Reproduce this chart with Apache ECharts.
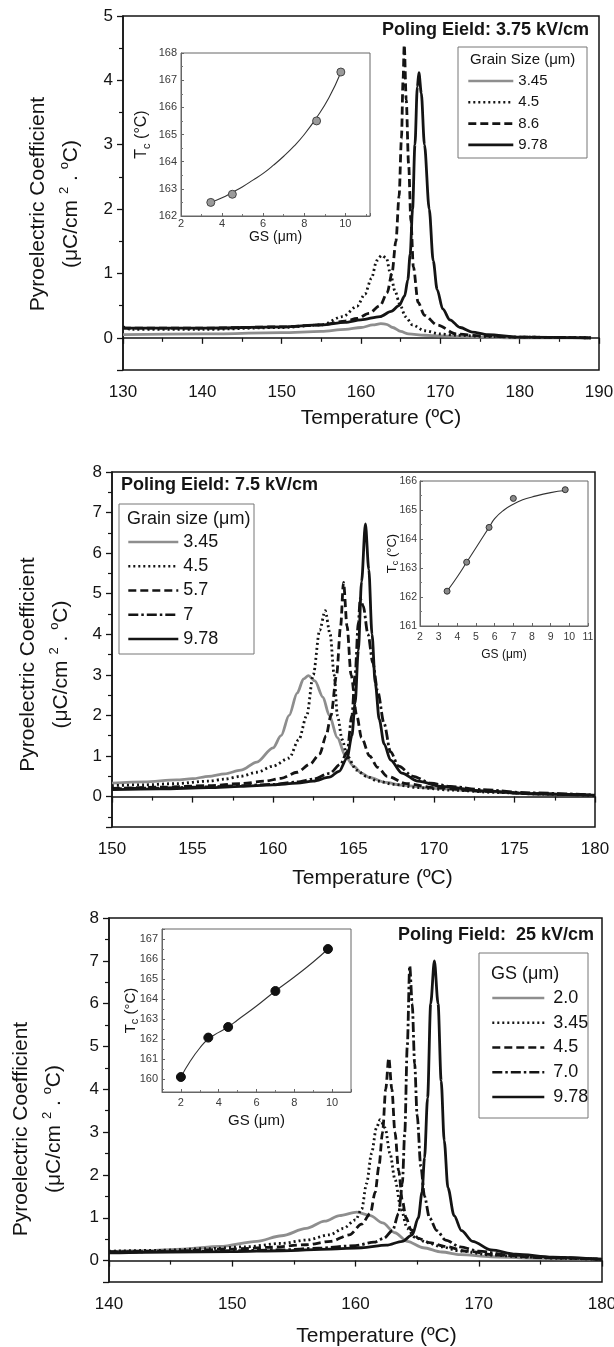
<!DOCTYPE html>
<html>
<head>
<meta charset="utf-8">
<script src="https://cdn.jsdelivr.net/npm/echarts@6/dist/echarts.min.js"></script>
<style>
html,body{margin:0;padding:0;background:#fff;}
#chart{width:614px;height:1347px;}
</style>
</head>
<body>
<div id="chart"></div>
<script>
// ---------- Panel A: poling field 3.75 kV/cm ----------
const a_345 = [[130,0.05],[140,0.06],[150,0.08],[155,0.1],[158,0.13],[160,0.16],[161.5,0.2],[162.5,0.22],[163.2,0.21],[164,0.16],[165,0.1],[166,0.06],[168,0.04],[170,0.03],[175,0.01],[180,0.0],[189,0.0]];
const a_45 = [[130,0.17],[131,0.13],[140,0.13],[150,0.16],[155,0.2],[157.7,0.33],[159.5,0.49],[160.5,0.68],[161.3,0.92],[162,1.2],[162.6,1.28],[163.2,1.24],[163.7,1.0],[164.3,0.72],[164.9,0.52],[165.6,0.33],[166.5,0.2],[168,0.11],[170,0.06],[172,0.04],[176,0.02],[180,0.01],[189,0.0]];
const a_86 = [[130,0.15],[140,0.15],[150,0.17],[155,0.2],[158,0.26],[159.5,0.3],[161,0.38],[162.4,0.5],[163.3,0.7],[163.9,1.0],[164.4,1.5],[164.8,2.2],[165.1,3.1],[165.3,4.0],[165.45,4.55],[165.7,3.7],[166.0,2.7],[166.3,1.8],[166.6,1.1],[167.2,0.55],[168,0.35],[169.6,0.2],[172,0.06],[175,0.03],[180,0.01],[189,0.0]];
const a_978 = [[130,0.15],[140,0.15],[150,0.17],[155,0.2],[158,0.24],[160,0.28],[162.4,0.33],[163.8,0.41],[164.8,0.5],[165.5,0.65],[165.9,0.9],[166.2,1.3],[166.5,2.0],[166.8,3.0],[167.1,3.9],[167.3,4.12],[167.6,3.8],[168.0,3.0],[168.6,2.0],[169.1,1.2],[169.6,0.75],[170.3,0.45],[171.2,0.28],[172.5,0.16],[174,0.09],[176,0.05],[180,0.01],[189,0.0]];
const aGS = [3.45,4.5,8.6,9.78];
const aTc = [162.5,162.8,165.5,167.3];
const aFitGS = [3.45,4,4.5,5,5.5,6,6.5,7,7.5,8,8.6,9.2,9.78];
const aFitTc = [162.5,162.67,162.87,163.08,163.32,163.57,163.87,164.2,164.57,165.0,165.62,166.35,167.28];

// ---------- Panel B: poling field 7.5 kV/cm ----------
const b_345 = [[150,0.33],[152,0.36],[154,0.41],[155,0.44],[156,0.5],[157,0.56],[158,0.65],[159,0.85],[160,1.2],[160.5,1.5],[161,2.0],[161.5,2.55],[161.9,2.9],[162.2,2.98],[162.6,2.85],[163.1,2.45],[163.5,2.0],[164,1.45],[164.5,1.0],[165,0.75],[165.5,0.58],[166,0.47],[167,0.35],[168,0.28],[170,0.2],[172,0.15],[175,0.09],[178,0.05],[180,0.03]];
const b_45 = [[150,0.27],[152,0.29],[154,0.32],[156,0.38],[157,0.43],[158,0.5],[159,0.6],[160,0.75],[161,0.95],[161.6,1.4],[162.1,2.0],[162.5,3.0],[162.9,4.1],[163.24,4.58],[163.55,4.0],[163.8,3.0],[164.0,2.0],[164.3,1.4],[164.6,1.0],[165.2,0.65],[165.8,0.5],[166.5,0.38],[167.5,0.3],[169,0.22],[171,0.16],[174,0.1],[177,0.06],[180,0.03]];
const b_57 = [[150,0.2],[153,0.23],[156,0.27],[158,0.32],[159.5,0.38],[160.5,0.45],[161.5,0.6],[162.3,0.8],[162.9,1.05],[163.3,1.5],[163.6,2.0],[163.95,3.0],[164.2,4.2],[164.38,5.28],[164.6,4.2],[164.85,3.0],[165.2,2.0],[165.5,1.45],[166,1.0],[166.5,0.72],[167.1,0.5],[168.3,0.32],[170,0.22],[173,0.13],[176,0.07],[180,0.03]];
const b_7 = [[150,0.19],[153,0.21],[156,0.24],[158,0.27],[160,0.3],[161.5,0.36],[162.5,0.43],[163.5,0.57],[164.2,0.8],[164.6,1.1],[164.9,2.0],[165.1,3.0],[165.3,4.3],[165.42,4.88],[165.6,4.7],[165.9,4.0],[166.2,3.3],[166.5,2.6],[166.9,1.8],[167.3,1.1],[167.8,0.75],[168.7,0.5],[169.8,0.33],[171,0.25],[173,0.17],[176,0.09],[180,0.04]];
const b_978 = [[150,0.17],[153,0.19],[156,0.22],[158,0.25],[160,0.29],[161.5,0.33],[162.5,0.38],[163.5,0.48],[164.1,0.62],[164.6,0.95],[164.9,1.5],[165.1,2.3],[165.3,3.6],[165.5,5.3],[165.74,6.72],[165.95,5.6],[166.15,4.0],[166.35,2.8],[166.6,1.9],[166.9,1.3],[167.3,0.9],[168.0,0.58],[169,0.38],[170.5,0.25],[173,0.14],[176,0.07],[180,0.03]];
const bGS = [3.45,4.5,5.7,7,9.78];
const bTc = [162.2,163.2,164.4,165.4,165.7];
const bFitGS = [3.45,4,4.5,5,5.7,6,6.5,7,7.5,8,9,9.78];
const bFitTc = [162.2,162.7,163.2,163.7,164.4,164.7,165.0,165.2,165.35,165.45,165.6,165.67];

// ---------- Panel C: poling field 25 kV/cm ----------
const c_20 = [[140,0.21],[143,0.23],[146,0.27],[149,0.33],[152,0.45],[154,0.58],[156,0.75],[157.5,0.92],[158.7,1.05],[160.1,1.13],[161.2,1.05],[162.2,0.88],[163.2,0.65],[164.2,0.45],[165.5,0.3],[167,0.2],[168.5,0.14],[171,0.09],[174,0.06],[177,0.04],[180,0.03]];
const c_345 = [[140,0.22],[144,0.24],[148,0.28],[151,0.32],[154,0.4],[156,0.48],[157.9,0.6],[159,0.75],[160,0.95],[160.5,1.2],[160.9,1.8],[161.3,2.5],[161.7,3.1],[162.0,3.29],[162.4,3.1],[162.8,2.5],[163.2,1.9],[163.7,1.2],[164.2,0.75],[164.8,0.55],[165.8,0.42],[167,0.32],[168.5,0.22],[171,0.13],[174,0.08],[177,0.05],[180,0.03]];
const c_45 = [[140,0.2],[145,0.22],[150,0.27],[153,0.31],[156,0.37],[158,0.45],[159.5,0.6],[160.5,0.85],[161.2,1.1],[161.6,1.6],[161.9,2.2],[162.2,3.0],[162.45,4.0],[162.7,4.73],[162.95,4.0],[163.2,3.0],[163.5,2.1],[163.8,1.4],[164.1,1.0],[164.5,0.72],[165.1,0.52],[166,0.42],[167.3,0.33],[169,0.22],[171.5,0.13],[175,0.07],[180,0.03]];
const c_70 = [[140,0.2],[145,0.21],[150,0.23],[154,0.25],[157,0.29],[160,0.35],[161.5,0.43],[162.3,0.52],[163,0.7],[163.5,1.1],[163.8,1.8],[164.0,3.0],[164.2,5.0],[164.4,6.88],[164.6,6.0],[164.8,4.6],[165.0,3.4],[165.3,2.2],[165.6,1.5],[166,1.0],[166.6,0.7],[167.3,0.48],[168.5,0.32],[170,0.22],[172.5,0.13],[176,0.07],[180,0.03]];
const c_978 = [[140,0.18],[145,0.2],[150,0.21],[154,0.23],[158,0.27],[160.5,0.3],[162.5,0.36],[163.8,0.45],[164.6,0.6],[165.1,1.0],[165.4,1.6],[165.6,2.4],[165.85,3.8],[166.1,6.0],[166.4,7.0],[166.7,6.0],[166.95,4.2],[167.2,2.8],[167.5,1.7],[168,1.05],[168.6,0.7],[169.5,0.45],[171,0.25],[173,0.15],[176,0.08],[180,0.03]];
const cGS = [2.0,3.45,4.5,7.0,9.78];
const cTc = [160.1,162.07,162.6,164.4,166.5];
const cFitGS = [2,2.5,3,3.45,4,4.5,5,6,7,8,9,9.78];
const cFitTc = [160.1,160.9,161.55,162.0,162.33,162.6,162.95,163.65,164.4,165.1,165.85,166.5];

// ---------- shared styling ----------
const FONT = '"Liberation Sans", Arial, Helvetica, sans-serif';
const INK = '#141414';
const GRAY = '#8e8e8e';
const DOT = [2, 3];
const DASH = [8, 4];
const DASHDOT = [10, 3, 2.5, 3];
const isInt = v => Math.abs(v - Math.round(v)) < 1e-6;
const intOnly = v => isInt(v) ? String(Math.round(v)) : '';
const evenOnly = v => (isInt(v) && Math.round(v) % 2 === 0) ? String(Math.round(v)) : '';
const pairs = (xs, ys) => xs.map((x, i) => [x, ys[i]]);

function curve(name, data, axis, color, dash) {
  return {
    name, type: 'line', data, xAxisIndex: axis, yAxisIndex: axis,
    symbol: 'none', smooth: 0.3, smoothMonotone: 'x', silent: true,
    lineStyle: { color, width: 2.8, type: dash || 'solid', cap: 'butt' },
    itemStyle: { color }
  };
}
function fitLine(xs, ys, axis) {
  return {
    type: 'line', data: pairs(xs, ys), xAxisIndex: axis, yAxisIndex: axis,
    symbol: 'none', smooth: 0.5, silent: true,
    lineStyle: { color: '#333', width: 1.1 }
  };
}
function dots(xs, ys, axis, size, fill, edge) {
  return {
    type: 'scatter', data: pairs(xs, ys), xAxisIndex: axis, yAxisIndex: axis,
    symbol: 'circle', symbolSize: size, silent: true, z: 5,
    itemStyle: { color: fill, borderColor: edge, borderWidth: 1, opacity: 1 }
  };
}

const yName = 'Pyroelectric Coefficient\n(μC/cm {s|2} . {s|o}C)';
function mainX(grid, min, max, interval, padLeft, gap) {
  return {
    gridIndex: grid, type: 'value', min, max, interval,
    name: 'Temperature (ºC)', nameLocation: 'middle', nameGap: gap, nameMoveOverlap: false,
    nameTextStyle: { fontFamily: FONT, fontSize: 21, color: INK, padding: [0, 0, 0, padLeft] },
    axisLine: { show: true, lineStyle: { color: INK, width: 1.5 } },
    axisTick: { show: true, inside: false, length: 6, lineStyle: { color: INK, width: 1.3 } },
    minorTick: { show: true, splitNumber: 2, length: 4, lineStyle: { color: INK, width: 1.2 } },
    axisLabel: { fontFamily: FONT, fontSize: 17, color: INK, margin: 14 },
    splitLine: { show: false }
  };
}
function mainY(grid, min, max, split, padRight, gap) {
  return {
    gridIndex: grid, type: 'value', min, max, splitNumber: split,
    name: yName, nameLocation: 'middle', nameRotate: 90, nameGap: gap, nameMoveOverlap: false,
    nameTextStyle: {
      fontFamily: FONT, fontSize: 21, color: INK, lineHeight: 33, align: 'center',
      padding: [0, padRight, 0, 0],
      rich: { s: { fontFamily: FONT, fontSize: 13, color: INK, lineHeight: 13, padding: [0, 0, 14, 0] } }
    },
    axisLine: { show: true, lineStyle: { color: INK, width: 1.5 } },
    axisTick: { show: true, inside: false, length: 6, lineStyle: { color: INK, width: 1.3 } },
    minorTick: { show: true, splitNumber: 2, length: 4, lineStyle: { color: INK, width: 1.2 } },
    axisLabel: { fontFamily: FONT, fontSize: 17, color: INK, margin: 10, formatter: intOnly },
    splitLine: { show: false }
  };
}
function insetX(grid, min, max, opts) {
  return Object.assign({
    gridIndex: grid, type: 'value', min, max,
    name: 'GS (μm)', nameLocation: 'middle', nameMoveOverlap: false,
    axisLine: { show: true, lineStyle: { color: '#666', width: 1 } },
    axisTick: { show: true, inside: true, length: 3, lineStyle: { color: '#666' } },
    minorTick: { show: true, splitNumber: 2, length: 2, lineStyle: { color: '#777' } },
    splitLine: { show: false }
  }, opts);
}
function insetY(grid, min, max, opts) {
  return Object.assign({
    gridIndex: grid, type: 'value', min, max,
    name: 'T{b|c} (°C)', nameLocation: 'middle', nameRotate: 90, nameMoveOverlap: false,
    axisLine: { show: true, lineStyle: { color: '#666', width: 1 } },
    axisTick: { show: true, inside: true, length: 3, lineStyle: { color: '#666' } },
    minorTick: { show: true, splitNumber: 2, length: 2, lineStyle: { color: '#777' } },
    splitLine: { show: false }
  }, opts);
}
const tcRich = size => ({ fontFamily: FONT, fontSize: size, color: INK, rich: { b: { fontFamily: FONT, fontSize: Math.round(size * 0.7), color: INK, padding: [Math.round(size * 0.55), 0, 0, 0] } } });
const smallLabel = (size, margin, fmt) => ({ fontFamily: FONT, fontSize: size, color: '#3a3a3a', margin, formatter: fmt });

function legendBlock(names, left, top, gap, width, size, textPad) {
  return {
    data: names, orient: 'vertical', left, top, padding: 0, itemGap: gap,
    itemWidth: width, itemHeight: size, selectedMode: false,
    formatter: n => n.split('|')[1],
    textStyle: { fontFamily: FONT, fontSize: size, color: INK, lineHeight: size, padding: [0, 0, 0, textPad] },
    itemStyle: { color: 'rgba(0,0,0,0)', borderWidth: 0 },
    lineStyle: { width: 2.6 }
  };
}
function boxWithHeader(x, y, w, h, header, hx, hy, size) {
  return [
    { type: 'rect', shape: { x, y, width: w, height: h }, style: { fill: '#fff', stroke: '#777', lineWidth: 1 }, z: 1, silent: true },
    { type: 'text', x: hx, y: hy, style: { text: header, font: size + 'px ' + FONT, fill: INK, textVerticalAlign: 'middle' }, z: 2, silent: true }
  ];
}

const option = {
  animation: false,
  backgroundColor: '#fff',
  title: [
    { text: 'Poling Eield: 3.75 kV/cm', left: 382, top: 21, padding: 0, textStyle: { fontFamily: FONT, fontSize: 18, fontWeight: 'bold', color: INK } },
    { text: 'Poling Eield: 7.5 kV/cm', left: 121, top: 476, padding: 0, textStyle: { fontFamily: FONT, fontSize: 18, fontWeight: 'bold', color: INK } },
    { text: 'Poling Field:  25 kV/cm', left: 398, top: 926, padding: 0, textStyle: { fontFamily: FONT, fontSize: 18, fontWeight: 'bold', color: INK } }
  ],
  grid: [
    { left: 123, top: 16, width: 476, height: 354, show: true, borderColor: INK, borderWidth: 1.5, backgroundColor: 'transparent', outerBoundsMode: 'none' },
    { left: 181, top: 53, width: 189, height: 163, show: true, borderColor: '#666', borderWidth: 1, backgroundColor: '#fff', outerBoundsMode: 'none' },
    { left: 112, top: 472, width: 483, height: 355, show: true, borderColor: INK, borderWidth: 1.5, backgroundColor: 'transparent', outerBoundsMode: 'none' },
    { left: 420, top: 481, width: 168, height: 145, show: true, borderColor: '#666', borderWidth: 1, backgroundColor: '#fff', outerBoundsMode: 'none' },
    { left: 109, top: 918, width: 493, height: 364, show: true, borderColor: INK, borderWidth: 1.5, backgroundColor: 'transparent', outerBoundsMode: 'none' },
    { left: 162, top: 929, width: 189, height: 163, show: true, borderColor: '#666', borderWidth: 1, backgroundColor: '#fff', outerBoundsMode: 'none' }
  ],
  xAxis: [
    mainX(0, 130, 190, 10, 40, 38),
    insetX(1, 2, 11.2, { nameGap: 14, nameTextStyle: { fontFamily: FONT, fontSize: 14, color: INK }, axisLabel: smallLabel(11, 2, evenOnly) }),
    mainX(2, 150, 180, 5, 38, 41),
    insetX(3, 2, 11, { interval: 1, nameGap: 23, nameTextStyle: { fontFamily: FONT, fontSize: 12, color: INK }, axisLabel: smallLabel(10.5, 6, intOnly), minorTick: { show: false } }),
    mainX(4, 140, 180, 10, 42, 44),
    insetX(5, 1, 11, { splitNumber: 5, nameGap: 21, nameTextStyle: { fontFamily: FONT, fontSize: 15, color: INK }, axisLabel: smallLabel(11, 5, evenOnly) })
  ],
  yAxis: [
    mainY(0, -0.5, 5, 5, 22, 35),
    insetY(1, 162, 168, { interval: 1, nameGap: 29, nameTextStyle: tcRich(16), axisLabel: smallLabel(11, 4, intOnly) }),
    mainY(2, -0.75, 8, 8, 30, 34),
    insetY(3, 161, 166, { interval: 1, nameGap: 20, nameTextStyle: tcRich(13), axisLabel: smallLabel(10.5, 3, intOnly) }),
    mainY(4, -0.5, 8, 8, 58, 38),
    insetY(5, 159.35, 167.5, { splitNumber: 8, nameGap: 22, nameTextStyle: tcRich(15), axisLabel: smallLabel(11, 4, intOnly) })
  ],
  legend: [
    legendBlock(['a|3.45', 'a|4.5', 'a|8.6', 'a|9.78'], 467, 73.5, 6.3, 45, 15, 0),
    legendBlock(['b|3.45', 'b|4.5', 'b|5.7', 'b|7', 'b|9.78'], 127, 533, 6.25, 50, 18, 0),
    legendBlock(['c|2.0', 'c|3.45', 'c|4.5', 'c|7.0', 'c|9.78'], 491, 989, 6.75, 52, 18, 4)
  ],
  graphic: [
    ...boxWithHeader(458, 47, 129, 111, 'Grain Size (μm)', 470, 60, 15),
    ...boxWithHeader(119, 504, 135, 150, 'Grain size (μm)', 127, 519, 18),
    ...boxWithHeader(479, 953, 109, 165, 'GS (μm)', 491, 974, 18)
  ],
  series: [
    curve('a|3.45', a_345, 0, GRAY),
    curve('a|4.5', a_45, 0, INK, DOT),
    curve('a|8.6', a_86, 0, INK, DASH),
    curve('a|9.78', a_978, 0, INK),
    fitLine(aFitGS, aFitTc, 1),
    dots(aGS, aTc, 1, 8, '#9a9a9a', '#444'),

    curve('b|3.45', b_345, 2, GRAY),
    curve('b|4.5', b_45, 2, INK, DOT),
    curve('b|5.7', b_57, 2, INK, DASH),
    curve('b|7', b_7, 2, INK, DASHDOT),
    curve('b|9.78', b_978, 2, INK),
    fitLine(bFitGS, bFitTc, 3),
    dots(bGS, bTc, 3, 6, '#8a8a8a', '#333'),

    curve('c|2.0', c_20, 4, GRAY),
    curve('c|3.45', c_345, 4, INK, DOT),
    curve('c|4.5', c_45, 4, INK, DASH),
    curve('c|7.0', c_70, 4, INK, DASHDOT),
    curve('c|9.78', c_978, 4, INK),
    fitLine(cFitGS, cFitTc, 5),
    dots(cGS, cTc, 5, 9, '#111', '#111')
  ]
};

const chart = echarts.init(document.getElementById('chart'), null, { renderer: 'canvas' });
chart.setOption(option);
</script>
</body>
</html>
